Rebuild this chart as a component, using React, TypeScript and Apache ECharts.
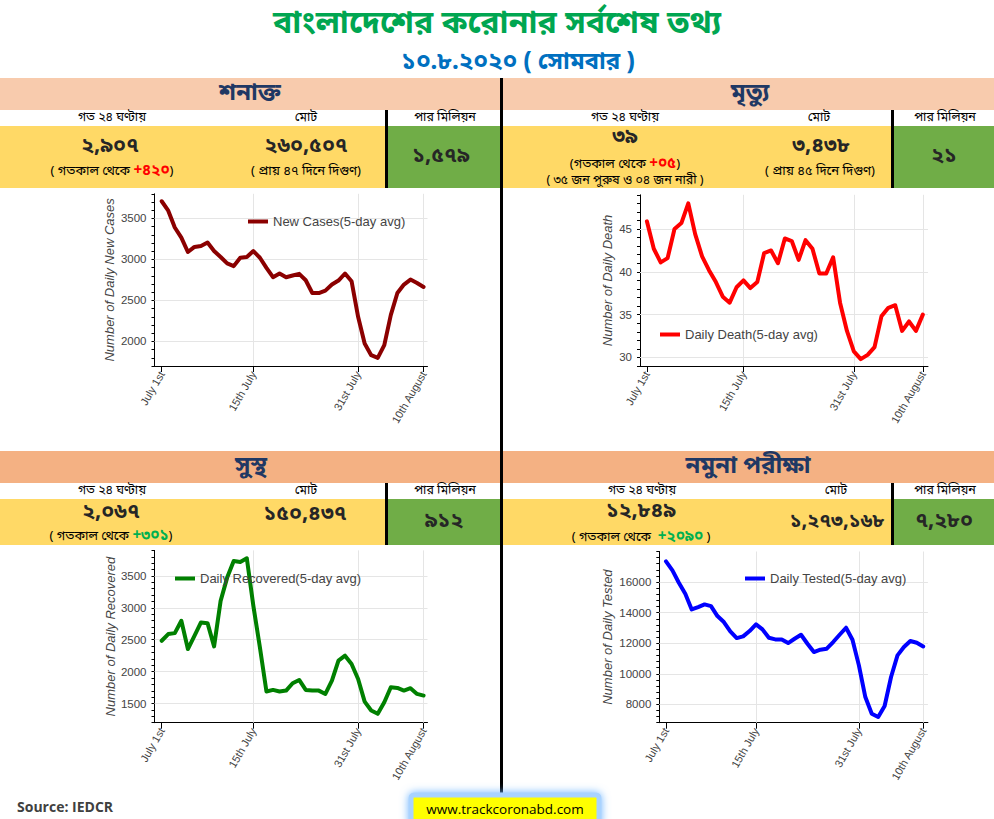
import { useEffect, useRef } from 'react';
import * as echarts from 'echarts';

// x values are days counted from 1 July 2020 (0 = July 1st, 40 = 10th August)
const dayTicks = [0, 14, 30, 40];
const dayTickLabels = ['July 1st', '15th July', '31st July', '10th August'];

// 5-day rolling averages, 1 July – 10 August 2020
const newCases = [
  3709, 3594, 3389, 3266, 3090, 3152, 3164, 3205, 3102, 3029, 2951, 2918, 3020, 3029, 3102, 3020,
  2897, 2783, 2828, 2783, 2803, 2824, 2746, 2590, 2590, 2619, 2693, 2742, 2828, 2734, 2300, 1975,
  1832, 1799, 1955, 2324, 2590, 2693, 2754, 2713, 2664,
];
const dailyDeaths = [
  45.9, 42.7, 41.1, 41.6, 45.0, 45.7, 48.0, 44.4, 41.8, 40.2, 38.8, 37.1, 36.4, 38.2, 39.0, 38.1,
  38.8, 42.2, 42.5, 41.0, 43.9, 43.6, 41.4, 43.7, 42.7, 39.8, 39.8, 41.7, 36.4, 33.1, 30.7, 29.8,
  30.3, 31.2, 34.8, 35.8, 36.1, 33.1, 34.2, 33.1, 35.0,
];
const dailyRecovered = [
  2484, 2589, 2604, 2797, 2354, 2562, 2771, 2760, 2396, 3109, 3474, 3734, 3719, 3776, 3031, 2380,
  1688, 1714, 1688, 1703, 1818, 1870, 1714, 1703, 1703, 1651, 1859, 2172, 2250, 2120, 1885, 1531,
  1391, 1339, 1521, 1755, 1745, 1703, 1740, 1651, 1625,
];
const dailyTested = [
  17352, 16763, 15956, 15237, 14212, 14365, 14540, 14430, 13776, 13384, 12773, 12337, 12446, 12795,
  13231, 12904, 12359, 12250, 12250, 12010, 12294, 12555, 11967, 11422, 11575, 11640, 12076, 12555,
  13013, 12228, 10550, 8479, 7389, 7170, 7890, 9787, 11204, 11749, 12141, 12032, 11792,
];

// labelled y ticks of each chart
const casesTicks = [2000, 2500, 3000, 3500];
const deathTicks = [30, 35, 40, 45];
const recoveredTicks = [1500, 2000, 2500, 3000, 3500];
const testedTicks = [8000, 10000, 12000, 14000, 16000];

const BN = '"Noto Sans Bengali", "Lohit Bengali", "Noto Sans", sans-serif';
const LAT = '"Liberation Sans", Arial, sans-serif';

const panels = [
  {
    name: 'New Cases(5-day avg)', values: newCases, ticks: casesTicks, color: '#8b0000',
    yTitle: 'Number of Daily New Cases', yMin: 1700, yMax: 3800, yStep: 100,
    grid: { left: 154.5, top: 193.8, width: 273, height: 172.2 }, xMin: -1.1, xMax: 40.6,
    nameGap: 39, legend: { left: 248, top: 215 },
  },
  {
    name: 'Daily Death(5-day avg)', values: dailyDeaths, ticks: deathTicks, color: '#ff0000',
    yTitle: 'Number of Daily Death', yMin: 29, yMax: 49, yStep: 1,
    grid: { left: 640, top: 194.8, width: 288, height: 171.2 }, xMin: -1, xMax: 40.75,
    nameGap: 26, legend: { left: 660, top: 328 },
  },
  {
    name: 'Daily Recovered(5-day avg)', values: dailyRecovered, ticks: recoveredTicks, color: '#008000',
    yTitle: 'Number of Daily Recovered', yMin: 1200, yMax: 3900, yStep: 100,
    grid: { left: 154.5, top: 550.4, width: 273, height: 172.3 }, xMin: -1.1, xMax: 40.6,
    nameGap: 38, legend: { left: 175, top: 572 },
  },
  {
    name: 'Daily Tested(5-day avg)', values: dailyTested, ticks: testedTicks, color: '#0000ff',
    yTitle: 'Number of Daily Tested', yMin: 6800, yMax: 18000, yStep: 400,
    grid: { left: 659.3, top: 551.5, width: 268.6, height: 171.2 }, xMin: -1.04, xMax: 40.73,
    nameGap: 45, legend: { left: 745, top: 572 },
  },
];

function rect(x: number, y: number, w: number, h: number, fill: string) {
  return { type: 'rect', silent: true, shape: { x, y, width: w, height: h }, style: { fill } };
}

function text(
  x: number, y: number, str: string, font: string, fill = '#000',
  align = 'center', rich?: Record<string, any>,
) {
  return {
    type: 'text', silent: true, x, y,
    style: {
      text: str, font, fill, align, verticalAlign: 'middle',
      textAlign: align, textVerticalAlign: 'middle', rich,
    },
  };
}

const red = { fill: '#ff0000', fontWeight: 'bold', fontSize: 15, fontFamily: BN };
const green = { fill: '#00b050', fontWeight: 'bold', fontSize: 15, fontFamily: BN };

const HEAD = `bold 24px ${BN}`;
const SMALL = `12.5px ${BN}`;
const NOTE = `13px ${BN}`;
const BIG = `bold 21px ${BN}`;
const DARK = '#262626';

function buildGraphics() {
  return [
    // title
    text(497, 25, 'বাংলাদেশের করোনার সর্বশেষ তথ্য', `bold 32px ${BN}`, '#00a651'),
    text(518, 63, '১০.৮.২০২০ ( সোমবার )', `bold 24px ${BN}`, '#0070c0'),

    // upper blocks
    rect(0, 78, 500, 32, '#f8cbad'),
    rect(503, 78, 491, 32, '#f8cbad'),
    rect(0, 126, 385, 62, '#ffd966'),
    rect(503, 126, 388, 62, '#ffd966'),
    rect(388, 126, 112, 62, '#70ad47'),
    rect(894, 126, 100, 62, '#70ad47'),
    rect(385, 110, 3, 78, '#000'),
    rect(891, 110, 3, 78, '#000'),

    // lower blocks
    rect(0, 451, 500, 32, '#f4b183'),
    rect(503, 451, 491, 32, '#f4b183'),
    rect(0, 499, 385, 46, '#ffd966'),
    rect(503, 499, 388, 46, '#ffd966'),
    rect(388, 499, 112, 46, '#70ad47'),
    rect(894, 499, 100, 46, '#70ad47'),
    rect(385, 483, 3, 62, '#000'),
    rect(891, 483, 3, 62, '#000'),

    // centre divider
    rect(500, 78, 3, 718, '#000'),

    // শনাক্ত
    text(250, 94, 'শনাক্ত', HEAD, '#1f3864'),
    text(112, 118, 'গত ২৪ ঘণ্টায়', SMALL),
    text(306, 118, 'মোট', SMALL),
    text(445, 118, 'পার মিলিয়ন', SMALL),
    text(110, 147, '২,৯০৭', BIG, DARK),
    text(112, 171, '( গতকাল থেকে {r|+৪২০})', NOTE, '#000', 'center', { r: red }),
    text(306, 147, '২৬০,৫০৭', BIG, DARK),
    text(306, 171, '( প্রায় ৪৭ দিনে দিগুণ)', NOTE),
    text(441, 157, '১,৫৭৯', BIG, DARK),

    // মৃত্যু
    text(750, 94, 'মৃত্যু', HEAD, '#1f3864'),
    text(625, 118, 'গত ২৪ ঘণ্টায়', SMALL),
    text(819, 118, 'মোট', SMALL),
    text(945, 118, 'পার মিলিয়ন', SMALL),
    text(625, 138, '৩৯', BIG, DARK),
    text(625, 164, '(গতকাল থেকে {r|+০৫})', NOTE, '#000', 'center', { r: red }),
    text(625, 181, '( ৩৫ জন পুরুষ ও ০৪ জন নারী )', SMALL),
    text(821, 147, '৩,৪৩৮', BIG, DARK),
    text(820, 171, '( প্রায় ৪৫ দিনে দিগুণ)', NOTE),
    text(944, 157, '২১', BIG, DARK),

    // সুস্থ
    text(251, 467, 'সুস্থ', HEAD, '#1f3864'),
    text(112, 491, 'গত ২৪ ঘণ্টায়', SMALL),
    text(306, 491, 'মোট', SMALL),
    text(445, 491, 'পার মিলিয়ন', SMALL),
    text(111, 513, '২,০৬৭', BIG, DARK),
    text(111, 536, '( গতকাল থেকে {g|+৩০১})', NOTE, '#000', 'center', { g: green }),
    text(305, 515, '১৫০,৪৩৭', BIG, DARK),
    text(444, 522, '৯১২', BIG, DARK),

    // নমুনা পরীক্ষা
    text(748, 467, 'নমুনা পরীক্ষা', HEAD, '#1f3864'),
    text(642, 491, 'গত ২৪ ঘণ্টায়', SMALL),
    text(836, 491, 'মোট', SMALL),
    text(945, 491, 'পার মিলিয়ন', SMALL),
    text(641, 512, '১২,৮৪৯', BIG, DARK),
    text(641, 537, '( গতকাল থেকে  {g|+২০৯০} )', NOTE, '#000', 'center', { g: green }),
    text(837, 522, '১,২৭৩,১৬৮', `bold 19.5px ${BN}`, DARK),
    text(944, 522, '৭,২৮০', BIG, DARK),

    // footer
    text(17, 806, 'Source: IEDCR', `bold 14px "Open Sans", ${LAT}`, '#404040', 'left'),
    {
      type: 'rect', silent: true,
      shape: { x: 411, y: 795, width: 188, height: 30, r: 3 },
      style: { fill: '#ffff00', stroke: '#a9d3ff', lineWidth: 5, shadowBlur: 8, shadowColor: '#6fb6ff' },
    },
    text(505, 809, 'www.trackcoronabd.com', `13.5px "Open Sans", ${LAT}`, '#000'),
  ];
}

function buildOption() {
  const grid: any[] = [];
  const xAxis: any[] = [];
  const yAxis: any[] = [];
  const series: any[] = [];
  const legend: any[] = [];

  panels.forEach((p, k) => {
    grid.push({ ...p.grid, containLabel: false });

    xAxis.push({
      type: 'value', gridIndex: k, min: p.xMin, max: p.xMax,
      axisLine: { show: true, onZero: false, lineStyle: { color: '#000', width: 1 } },
      axisTick: { show: true, customValues: dayTicks, length: 6, lineStyle: { color: '#000' } },
      axisLabel: {
        customValues: dayTicks, rotate: 60, margin: 6, fontSize: 11, color: '#444', fontFamily: LAT,
        formatter: (v: number) => dayTickLabels[dayTicks.indexOf(Math.round(v))] ?? '',
      },
      splitLine: { show: false },
    });

    // scale axis: line, short ticks every step, labels at the major values
    yAxis.push({
      type: 'value', gridIndex: k, position: 'left', min: p.yMin, max: p.yMax, interval: p.yStep,
      axisLine: { show: true, onZero: false, lineStyle: { color: '#000', width: 1 } },
      axisTick: { show: true, length: 3, lineStyle: { color: '#000' } },
      axisLabel: {
        customValues: p.ticks, fontSize: 11.5, color: '#444', fontFamily: LAT, margin: 8,
        formatter: (v: number) => String(v),
      },
      splitLine: { show: false },
      name: p.yTitle, nameLocation: 'middle', nameGap: p.nameGap,
      nameTextStyle: { fontStyle: 'italic', fontSize: 13, color: '#444', fontFamily: LAT },
    });
    // overlay axis carrying the longer major ticks
    yAxis.push({
      type: 'value', gridIndex: k, position: 'left', min: p.yMin, max: p.yMax, interval: p.yStep,
      axisLine: { show: false },
      axisTick: { show: true, customValues: p.ticks, length: 6, lineStyle: { color: '#000' } },
      axisLabel: { show: false },
      splitLine: { show: false },
    });

    series.push({
      type: 'line', name: p.name, xAxisIndex: k, yAxisIndex: 2 * k,
      data: p.values.map((v, i) => [i, v]),
      showSymbol: false, symbol: 'none', silent: true, z: 2,
      lineStyle: { color: p.color, width: 4, cap: 'round', join: 'round' },
      itemStyle: { color: p.color },
      markLine: {
        silent: true, z: 1, symbol: ['none', 'none'], label: { show: false },
        emphasis: { disabled: true },
        lineStyle: { color: '#e5e5e5', width: 1, type: 'solid' },
        data: [
          ...p.ticks.map((v) => ({ yAxis: v })),
          ...dayTicks.filter((d) => d > 0).map((d) => ({ xAxis: d })),
        ],
      },
    });

    legend.push({
      data: [p.name], left: p.legend.left, top: p.legend.top, padding: 0,
      icon: 'rect', itemWidth: 20, itemHeight: 4, selectedMode: false,
      textStyle: { fontSize: 13, color: '#444', fontFamily: LAT },
    });
  });

  return {
    animation: false,
    backgroundColor: '#ffffff',
    grid, xAxis, yAxis, series, legend,
    graphic: { elements: buildGraphics() },
  };
}

export default function App() {
  const ref = useRef<HTMLDivElement>(null);

  useEffect(() => {
    if (!ref.current) return;
    const chart = echarts.init(ref.current, undefined, { renderer: 'svg' });
    chart.setOption(buildOption() as any);
    return () => chart.dispose();
  }, []);

  return (
    <div
      ref={ref}
      style={{ position: 'absolute', left: 0, top: 0, width: 994, height: 819, background: '#fff' }}
    />
  );
}
